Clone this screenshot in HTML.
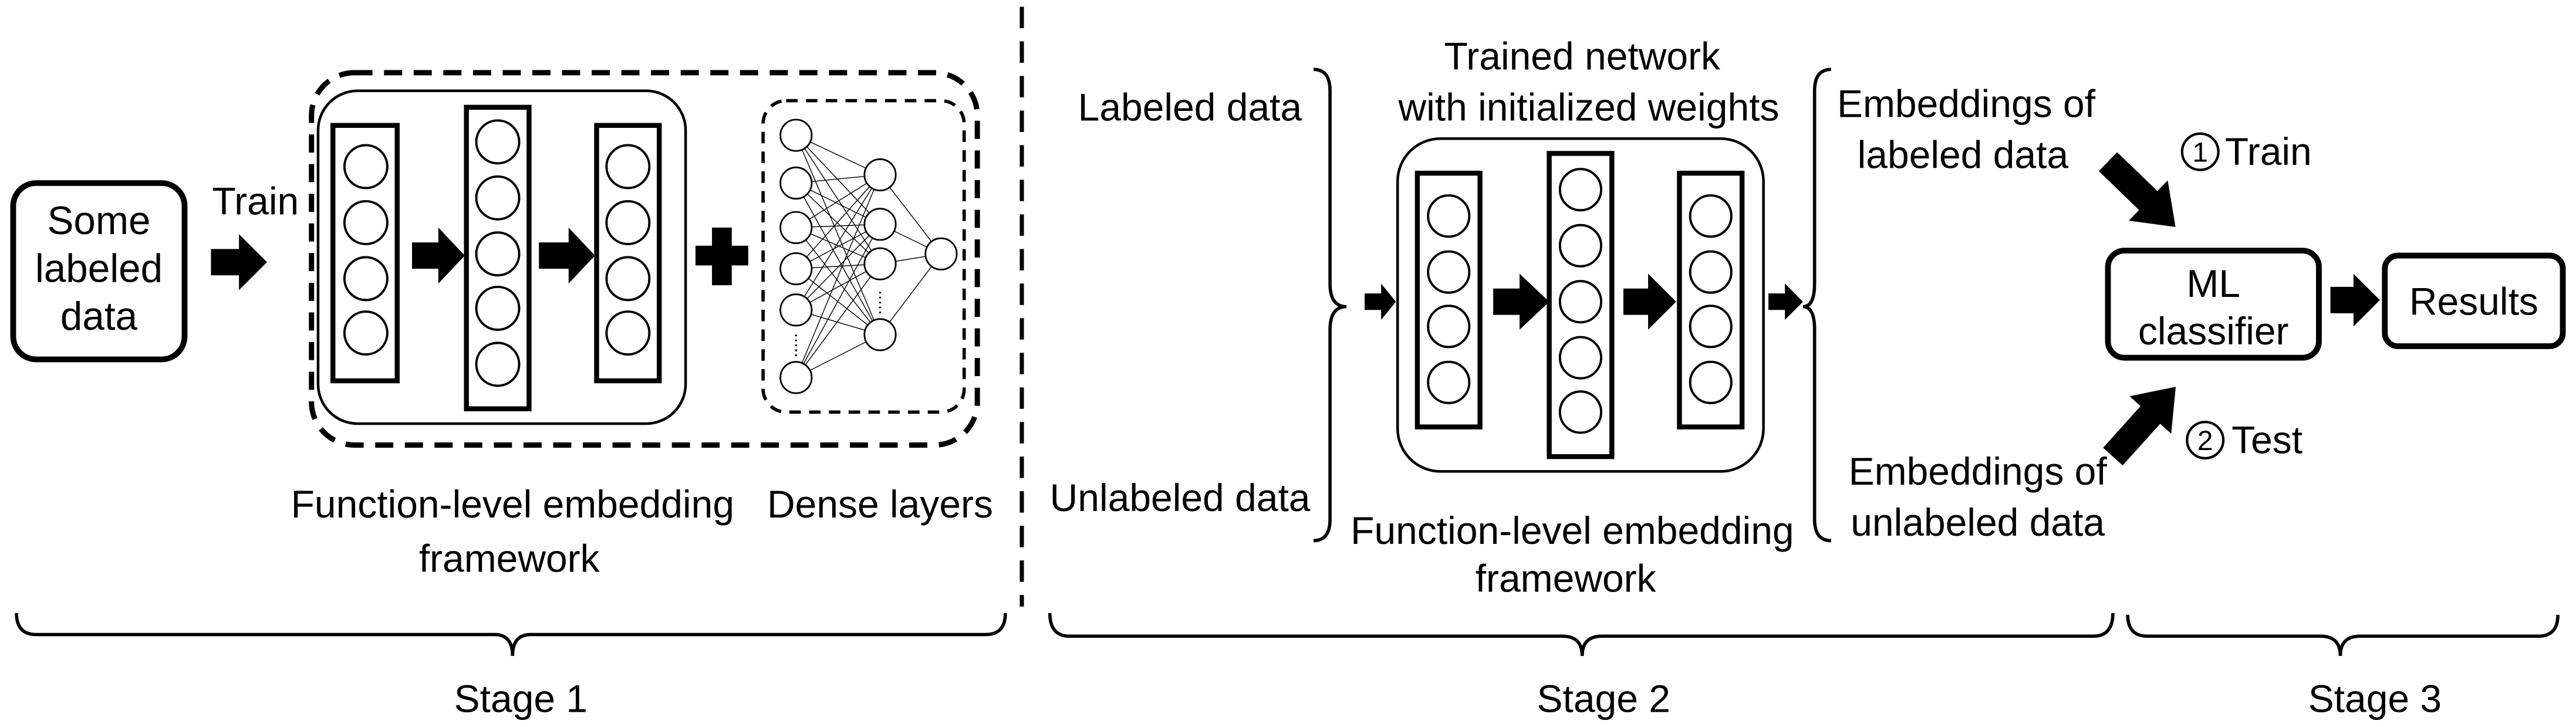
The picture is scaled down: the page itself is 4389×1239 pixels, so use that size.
<!DOCTYPE html>
<html><head><meta charset="utf-8"><style>
html,body{margin:0;padding:0;background:#fff;width:4389px;height:1239px;overflow:hidden}
svg text{font-family:"Liberation Sans",sans-serif;font-size:23.5px;fill:#000}
</style></head><body>
<svg width="4389" height="1239" viewBox="0 0 1563 441" xmlns="http://www.w3.org/2000/svg">
<g fill="none" stroke="#000">
<rect x="8" y="111" width="104" height="107" rx="14" stroke-width="3.5"/>
<rect x="189" y="44" width="404" height="226" rx="26" stroke-width="3.2" stroke-dasharray="11,7"/>
<rect x="193" y="55" width="223" height="202" rx="24" stroke-width="1.6"/>
<rect x="202" y="76" width="39" height="155" stroke-width="3"/>
<rect x="283" y="65" width="38" height="183" stroke-width="3"/>
<rect x="362" y="76" width="38" height="155" stroke-width="3"/>
<g stroke-width="1.4">
<circle cx="222" cy="101" r="13"/><circle cx="222" cy="135" r="13"/><circle cx="222" cy="169" r="13"/><circle cx="222" cy="202" r="13"/>
<circle cx="302" cy="86" r="13"/><circle cx="302" cy="120" r="13"/><circle cx="302" cy="154" r="13"/><circle cx="302" cy="187" r="13"/><circle cx="302" cy="221" r="13"/>
<circle cx="381" cy="101" r="13"/><circle cx="381" cy="135" r="13"/><circle cx="381" cy="169" r="13"/><circle cx="381" cy="202" r="13"/>
</g>
<rect x="463" y="61" width="122" height="189" rx="14" stroke-width="2" stroke-dasharray="7,5"/>
<g stroke-width="0.5">
<path d="M483,82L534,106M483,82L534,136M483,82L534,160M483,82L534,203M483,111L534,106M483,111L534,136M483,111L534,160M483,111L534,203M483,138L534,106M483,138L534,136M483,138L534,160M483,138L534,203M483,163L534,106M483,163L534,136M483,163L534,160M483,163L534,203M483,188L534,106M483,188L534,136M483,188L534,160M483,188L534,203M483,229L534,106M483,229L534,136M483,229L534,160M483,229L534,203M534,106L571,154M534,136L571,154M534,160L571,154M534,203L571,154"/>
</g>
<g stroke-width="1" fill="#fff">
<circle cx="483" cy="82" r="9.5"/><circle cx="483" cy="111" r="9.5"/><circle cx="483" cy="138" r="9.5"/><circle cx="483" cy="163" r="9.5"/><circle cx="483" cy="188" r="9.5"/><circle cx="483" cy="229" r="9.5"/>
<circle cx="534" cy="106" r="9.5"/><circle cx="534" cy="136" r="9.5"/><circle cx="534" cy="160" r="9.5"/><circle cx="534" cy="203" r="9.5"/>
<circle cx="571" cy="154" r="9.5"/>
</g>
<path d="M483,203V216M534,177V190" stroke-width="1.2" stroke-dasharray="1,2"/>
<path d="M620,4V368" stroke-width="2.5" stroke-dasharray="13,8"/>
<path d="M10,372Q10,385 22,385L300,385Q311,385 311,398Q311,385 322,385L598,385Q610,385 610,372" stroke-width="2"/>
<path d="M797,42Q807,42 807,55L807,172Q807,186 817,186Q807,186 807,200L807,315Q807,328 797,328" stroke-width="2"/>
<path d="M1111,42Q1101,42 1101,55L1101,172Q1101,186 1094,186Q1101,186 1101,200L1101,315Q1101,328 1111,328" stroke-width="2"/>
<rect x="848" y="84" width="222" height="202" rx="26" stroke-width="1.6"/>
<rect x="860" y="105" width="38" height="154" stroke-width="3"/>
<rect x="940" y="93" width="38" height="184" stroke-width="3"/>
<rect x="1019" y="105" width="38" height="154" stroke-width="3"/>
<g stroke-width="1.4">
<circle cx="879" cy="131" r="12.5"/><circle cx="879" cy="165" r="12.5"/><circle cx="879" cy="198" r="12.5"/><circle cx="879" cy="232" r="12.5"/>
<circle cx="959" cy="115" r="12.5"/><circle cx="959" cy="149" r="12.5"/><circle cx="959" cy="183" r="12.5"/><circle cx="959" cy="217" r="12.5"/><circle cx="959" cy="250" r="12.5"/>
<circle cx="1038" cy="131" r="12.5"/><circle cx="1038" cy="165" r="12.5"/><circle cx="1038" cy="198" r="12.5"/><circle cx="1038" cy="232" r="12.5"/>
</g>
<path d="M637,372Q637,386 649,386L948,386Q960,386 960,398Q960,386 972,386L1270,386Q1282,386 1282,372" stroke-width="2"/>
<rect x="1279" y="152" width="128" height="65" rx="10" stroke-width="3.5"/>
<rect x="1447" y="155" width="108" height="55" rx="8" stroke-width="3.5"/>
<circle cx="1335" cy="92" r="11" stroke-width="1.5"/>
<circle cx="1338" cy="267" r="11" stroke-width="1.5"/>
<path d="M1291,373Q1291,386 1303,386L1408,386Q1420,386 1420,398Q1420,386 1432,386L1540,386Q1552,386 1552,373" stroke-width="2"/>
</g>
<g fill="#000">
<polygon points="128,151 145,151 145,142 162,159 145,176 145,167 128,167"/>
<polygon points="250,147 266,147 266,138 282,155 266,172 266,163 250,163"/>
<polygon points="327,147 345,147 345,138 361,155 345,172 345,163 327,163"/>
<path d="M432,138h12v11h10v12h-10v12h-12v-12h-10v-12h10z"/>
<polygon points="828,178 838,178 838,172 847,183 838,194 838,188 828,188"/>
<polygon points="906,175 922,175 922,166 940,183 922,200 922,191 906,191"/>
<polygon points="985,175 1000,175 1000,166 1017,183 1000,200 1000,191 985,191"/>
<polygon points="1073,178 1083,178 1083,172 1094,183 1083,194 1083,188 1073,188"/>
<polygon points="1414,174 1428,174 1428,166 1444,182 1428,198 1428,190 1414,190"/>
<polygon transform="translate(1279,98) rotate(44)" points="0,-8 34,-8 34,-17 57,0 34,17 34,8 0,8"/>
<polygon transform="translate(1282,277) rotate(-48)" points="0,-8 34,-8 34,-17 57,0 34,17 34,8 0,8"/>
</g>
<g text-anchor="middle">
<text x="60" y="142" style="font-size:24px">Some</text><text x="60" y="171" style="font-size:24px">labeled</text><text x="60" y="200" style="font-size:24px">data</text>
<text x="155" y="130">Train</text>
<text x="311" y="314">Function-level embedding</text>
<text x="309" y="347">framework</text>
<text x="534" y="314">Dense layers</text>
<text x="316" y="432">Stage 1</text>
<text x="722" y="73">Labeled data</text>
<text x="716" y="310">Unlabeled data</text>
<text x="960" y="42">Trained network</text>
<text x="964" y="73">with initialized weights</text>
<text x="954" y="330">Function-level embedding</text>
<text x="950" y="359">framework</text>
<text x="1193" y="71">Embeddings of</text>
<text x="1191" y="102">labeled data</text>
<text x="1200" y="294">Embeddings of</text>
<text x="1200" y="325">unlabeled data</text>
<text x="1335" y="98" style="font-size:17px">1</text>
<text x="1338" y="273" style="font-size:17px">2</text>
<text x="1343" y="180">ML</text>
<text x="1343" y="209">classifier</text>
<text x="1501" y="191">Results</text>
<text x="973" y="432">Stage 2</text>
<text x="1441" y="432">Stage 3</text>
</g>
<text x="1350" y="100">Train</text>
<text x="1354" y="275">Test</text>
</svg>
</body></html>
